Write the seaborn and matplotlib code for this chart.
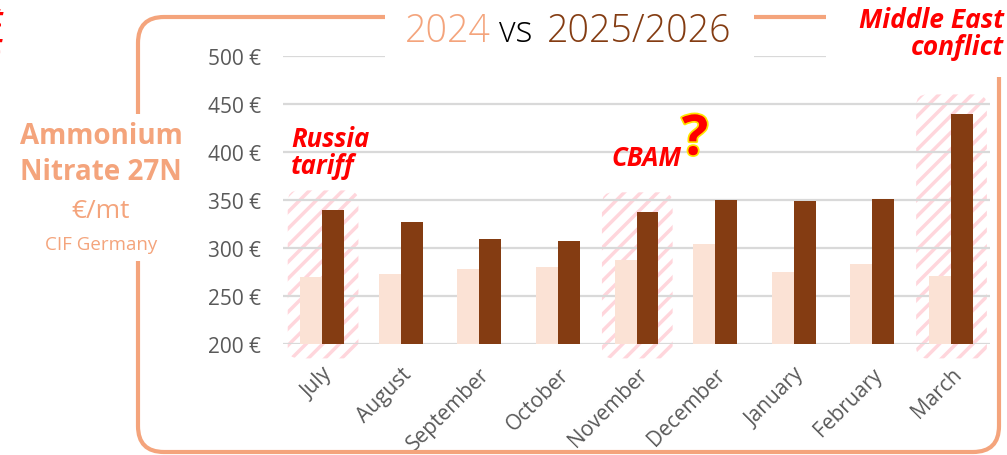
import numpy as np
import pandas as pd
import matplotlib
matplotlib.use("Agg")
import matplotlib.pyplot as plt
import seaborn as sns
from matplotlib.patches import FancyBboxPatch, Rectangle
from matplotlib.ticker import FuncFormatter
import matplotlib.patheffects as pe

# ── data ─────────────────────────────────────────────────────────────────────
months = ["July", "August", "September", "October", "November",
          "December", "January", "February", "March"]
price_2024 = [270, 273, 278, 280, 288, 304, 275, 283, 271]
price_2025_26 = [340, 327, 309, 307, 338, 350, 349, 351, 440]
series_names = ["2024", "2025/2026"]
highlight_months = ["July", "November", "March"]
y_ticks = [200, 250, 300, 350, 400, 450, 500]

LIGHT = "#FBE2D5"
DARK = "#843C12"
ORANGE = "#F4A47C"
RED = "#FF0000"
GREY = "#595959"

df = pd.DataFrame({
    "month": months * 2,
    "price": price_2024 + price_2025_26,
    "season": [series_names[0]] * len(months) + [series_names[1]] * len(months),
})

sns.set_theme(style="white")
plt.rcParams["font.family"] = ["Open Sans", "DejaVu Sans"]
plt.rcParams["hatch.linewidth"] = 2.5

W, H = 1007, 456
fig = plt.figure(figsize=(W / 100, H / 100), dpi=100)
ax = fig.add_axes([283 / W, 111 / H, 707 / W, 288 / H])

sns.barplot(
    data=df, x="month", y="price", hue="season", order=months,
    palette={series_names[0]: LIGHT, series_names[1]: DARK},
    width=0.56, gap=0, saturation=1, legend=False, ax=ax, zorder=2,
    linewidth=0,
)

ax.set_ylim(y_ticks[0], y_ticks[-1])
ax.set_yticks(y_ticks)
ax.yaxis.set_major_formatter(FuncFormatter(lambda v, _: f"{v:.0f} €"))
ax.grid(True, axis="y", color="#D9D9D9", linewidth=1.6, zorder=1)
ax.set_axisbelow(True)
for s in ax.spines.values():
    s.set_visible(False)
ax.set_xlabel("")
ax.set_ylabel("")
ax.tick_params(axis="y", length=0, pad=16, labelsize=15, labelcolor=GREY)
ax.tick_params(axis="x", length=0, pad=14, labelsize=15, labelcolor=GREY)
plt.setp(ax.get_xticklabels(), rotation=45, ha="right", rotation_mode="anchor")

# hatched highlight boxes behind selected months
px_per_x = 707 / len(months)
px_per_y = 288 / (y_ticks[-1] - y_ticks[0])
for m in highlight_months:
    i = months.index(m)
    top = price_2025_26[i] + 20
    box = FancyBboxPatch(
        (i - 0.44, 185), 0.9, top - 185,
        boxstyle="round,pad=0,rounding_size=0.14",
        mutation_aspect=px_per_x / px_per_y,
        facecolor="none", edgecolor="#FFD6DC", linewidth=0,
        hatch="//", clip_on=False, zorder=0.4,
    )
    ax.add_patch(box)

# outer rounded frame
frame = FancyBboxPatch(
    (1.38, 0.03), 8.61, 4.35,
    boxstyle="round,pad=0,rounding_size=0.26",
    transform=fig.dpi_scale_trans, facecolor="none",
    edgecolor=ORANGE, linewidth=3, zorder=1,
)
fig.patches.append(frame)

# white cut-outs where titles sit on the frame
for (x0, y0, w, h) in [(3.85, 3.90, 3.69, 0.70), (8.26, 3.78, 1.85, 0.80),
                       (0.10, 1.94, 1.85, 1.47)]:
    fig.patches.append(Rectangle((x0, y0), w, h, transform=fig.dpi_scale_trans,
                                 facecolor="white", edgecolor="none", zorder=2))

# title
ty = 1 - 42 / H
fig.text(491 / W, ty, "2024", color=ORANGE, fontsize=27, fontweight="light",
         ha="right", va="baseline", zorder=3)
fig.text(516 / W, ty, "vs", color="black", fontsize=26, fontweight="light",
         ha="center", va="baseline", zorder=3)
fig.text(547 / W, ty, "2025/2026", color=DARK, fontsize=27, fontweight="light",
         ha="left", va="baseline", zorder=3)

# left product label
fig.text(101 / W, 1 - 137 / H, "Ammonium", color=ORANGE, fontsize=20,
         fontweight="bold", ha="center", va="center", zorder=3)
fig.text(101 / W, 1 - 173 / H, "Nitrate 27N", color=ORANGE, fontsize=20,
         fontweight="bold", ha="center", va="center", zorder=3)
fig.text(101 / W, 1 - 212 / H, "€/mt", color=ORANGE, fontsize=19,
         ha="center", va="center", zorder=3)
fig.text(101 / W, 1 - 245 / H, "CIF Germany", color=ORANGE, fontsize=13.5,
         ha="center", va="center", zorder=3)

# red annotations
ann = dict(color=RED, fontweight="bold", style="italic", zorder=4)
fig.text(291 / W, 1 - 153 / H, "Russia\ntariff", fontsize=18.5, ha="left",
         va="center", linespacing=1.0, **ann)
fig.text(681 / W, 1 - 158 / H, "CBAM", fontsize=18.5, ha="right", va="center", **ann)
fig.text(695 / W, 1 - 141 / H, "?", fontsize=40, ha="center", va="center",
         color=RED, fontweight="bold", zorder=4,
         path_effects=[pe.withStroke(linewidth=2.5, foreground="#FFE600")])
fig.text(1004 / W, 1 - 34 / H, "Middle East\nconflict", fontsize=19, ha="right",
         va="center", multialignment="right", linespacing=1.0, **ann)
fig.text(3 / W, 1 - 33 / H, "Middle East\nconflict", fontsize=19, ha="right",
         va="center", multialignment="right", linespacing=1.0, **ann)

fig.savefig("out.png", dpi=100)
